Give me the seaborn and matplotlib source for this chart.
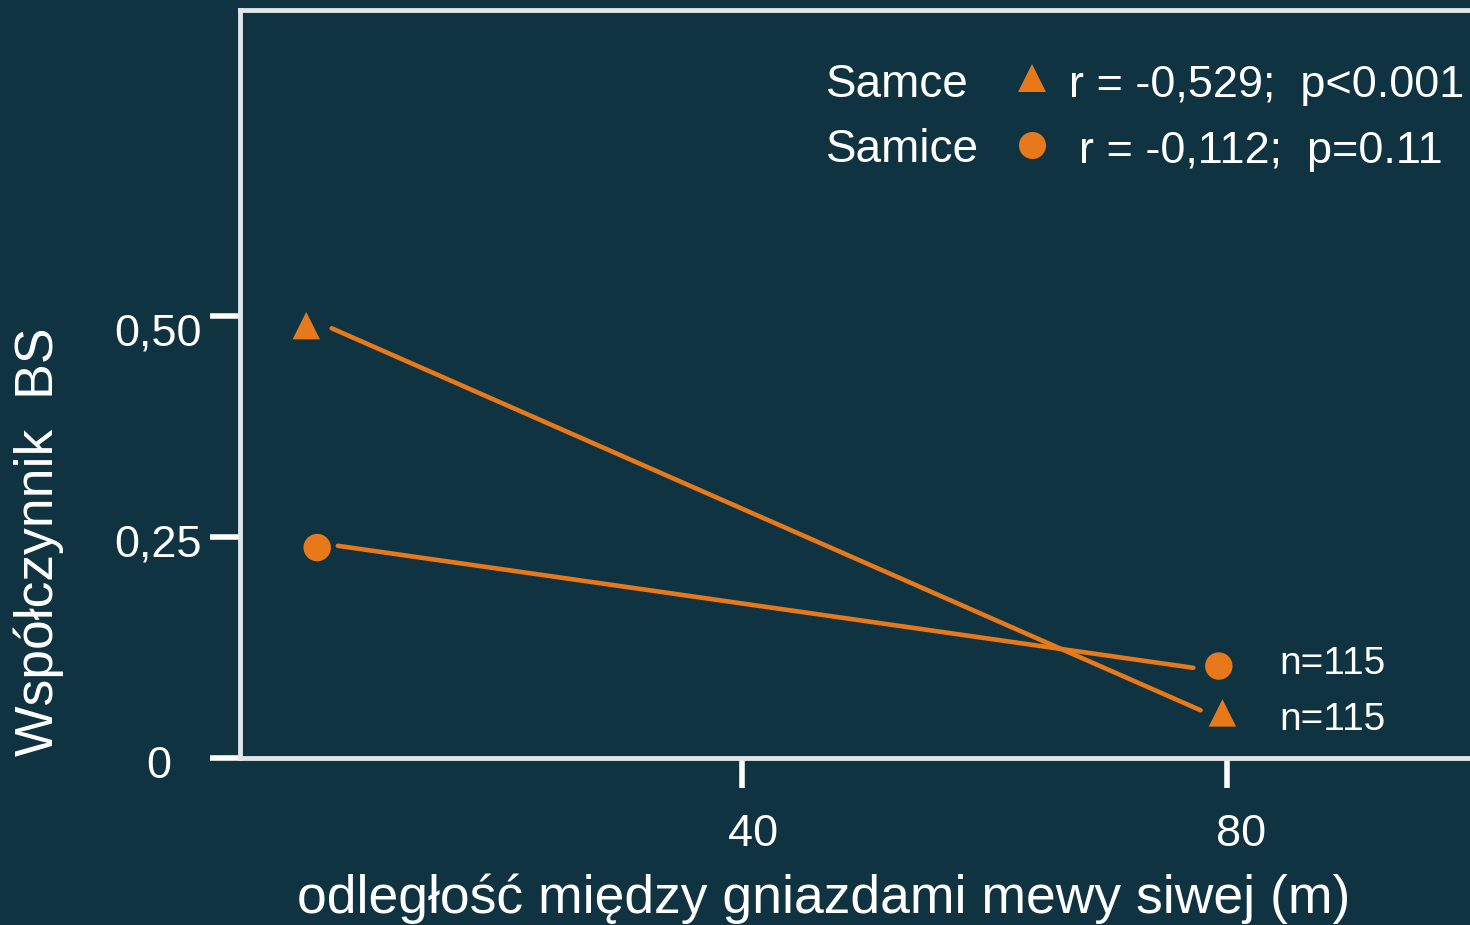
import matplotlib
matplotlib.use('Agg')
import matplotlib.pyplot as plt
import matplotlib.transforms as mtrans
from matplotlib.lines import Line2D
import seaborn as sns

# ---------------- data ----------------
male_x = [4.1, 79.6]
male_y = [0.489, 0.051]
female_x = [5.0, 79.3]
female_y = [0.238, 0.104]
male_fit_x = [6.2, 77.8]
male_fit_y = [0.486, 0.054]
female_fit_x = [6.7, 77.2]
female_fit_y = [0.240, 0.102]
x_ticks = [40, 80]
x_tick_labels = ['40', '80']
y_ticks = [0, 0.25, 0.50]
y_tick_labels = ['0', '0,25', '0,50']
legend_names = ['Samce', 'Samice']
legend_stats = ['r = -0,529;  p<0.001', 'r = -0,112;  p=0.11']
n_labels = ['n=115', 'n=115']
x_label = 'odległość między gniazdami mewy siwej (m)'
y_label = 'Współczynnik  BS'

# ---------------- style ----------------
BG = '#0f3341'
OR = '#e8791a'
SP = '#dfe5e8'
sns.set_style('white', {'axes.facecolor': BG, 'figure.facecolor': BG})
plt.rcParams['font.family'] = ['Liberation Sans', 'DejaVu Sans']

W, H = 1470, 925
fig = plt.figure(figsize=(W / 100, H / 100), dpi=100, facecolor=BG)
ax = fig.add_axes([240 / W, 1 - 758 / H, 1230 / W, 748 / H])
ax.set_facecolor(BG)

sns.lineplot(x=male_fit_x, y=male_fit_y, ax=ax, color=OR, lw=3.3, sort=False, estimator=None)
sns.lineplot(x=female_fit_x, y=female_fit_y, ax=ax, color=OR, lw=3.3, sort=False, estimator=None)
sns.scatterplot(x=male_x, y=male_y, ax=ax, marker='^', s=390, color=OR, edgecolor='none', zorder=5)
sns.scatterplot(x=female_x, y=female_y, ax=ax, marker='o', s=390, color=OR, edgecolor='none', zorder=5)

ax.set_xlim(-1.36, 100)
ax.set_ylim(0, 0.846)
ax.set_xticks(x_ticks, x_tick_labels)
ax.set_yticks(y_ticks, y_tick_labels)
ax.tick_params(axis='both', direction='out', length=21.5, width=4, color='white',
               labelcolor='white', labelsize=32.5, left=True, bottom=True)
ax.tick_params(axis='x', pad=19)
ax.tick_params(axis='y', pad=6)

for s in ['left', 'top', 'bottom']:
    ax.spines[s].set_color(SP)
    ax.spines[s].set_linewidth(3.5)
    ax.spines[s].set_visible(True)
ax.spines['right'].set_visible(False)

ax.set_xlabel(x_label, fontsize=38.5, color='white', va='baseline')
ax.xaxis.set_label_coords(0.4748, (758 - 913) / 748)
ax.set_ylabel(y_label, fontsize=38.5, color='white', va='baseline')
ax.yaxis.set_label_coords((53 - 240) / 1230, (758 - 542) / 748)

# legend-like annotation
name_pos = [(826, 97), (826, 162)]
stat_pos = [(1069, 97), (1079, 163)]
mk_pos = [(1031.5, 77.5), (1031.5, 145)]
markers = ['^', 'o']
for name, stat, (nx, ny), (sx, sy), (mx, my), mk in zip(legend_names, legend_stats, name_pos, stat_pos, mk_pos, markers):
    fig.text(nx / W, 1 - ny / H, name, fontsize=33, color='white', ha='left', va='baseline')
    fig.text(sx / W, 1 - sy / H, stat, fontsize=32.5, color='white', ha='left', va='baseline')
    fig.add_artist(Line2D([mx / W], [1 - my / H], marker=mk, ms=19.5, color=OR, ls='none',
                          markeredgewidth=0, transform=fig.transFigure))

n_pos = [(1279, 674), (1279, 730)]
for lab, (tx, ty) in zip(n_labels, n_pos):
    fig.text(tx / W, 1 - ty / H, lab, fontsize=28, color='white', ha='left', va='baseline')

# individual tick-label offsets (pixels)
y_offsets = [(-31, -4), (0, -3.5), (0, -13.5)]
for lab, (dx, dy) in zip(ax.get_yticklabels(), y_offsets):
    lab.set_transform(lab.get_transform() + mtrans.ScaledTranslation(dx / 100, dy / 100, fig.dpi_scale_trans))
x_offsets = [(11, 0), (14, 0)]
for lab, (dx, dy) in zip(ax.get_xticklabels(), x_offsets):
    lab.set_transform(lab.get_transform() + mtrans.ScaledTranslation(dx / 100, dy / 100, fig.dpi_scale_trans))

fig.savefig('out.png', dpi=100, facecolor=BG)
